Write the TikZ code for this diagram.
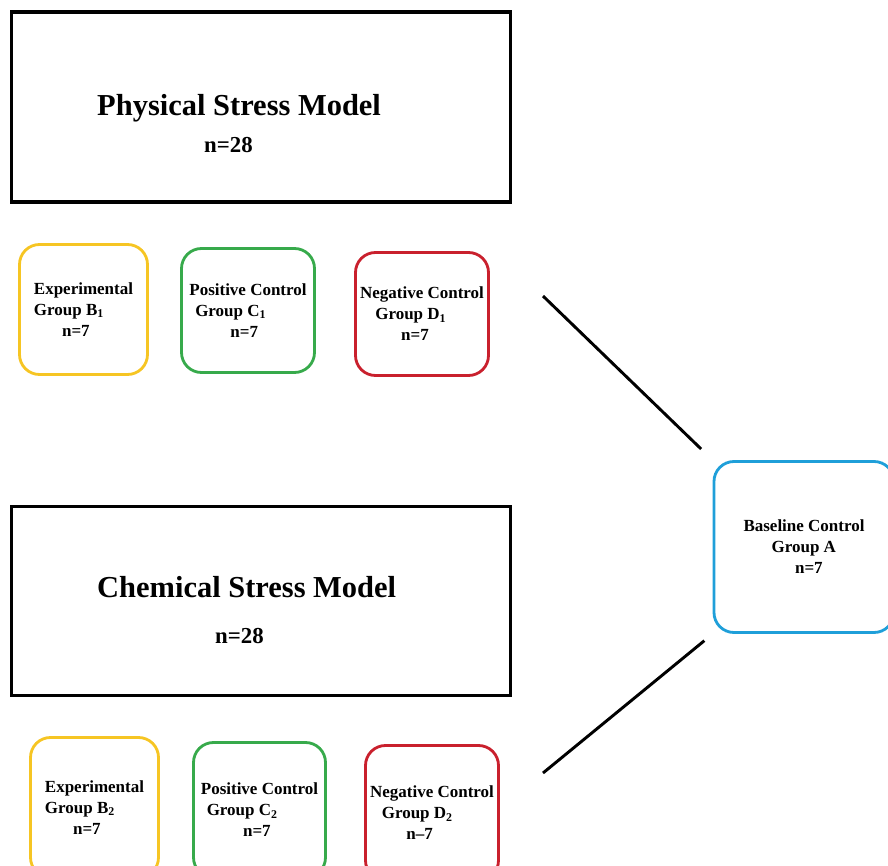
\documentclass[tikz,border=0pt]{standalone}
\usepackage{fontspec}
\setmainfont{Liberation Serif}
\usetikzlibrary{positioning,calc}

\definecolor{grpyellow}{HTML}{F6C523}
\definecolor{grpgreen}{HTML}{37AA4B}
\definecolor{grpred}{HTML}{C9202D}
\definecolor{grpblue}{HTML}{1F9FD9}

\tikzset{
  model/.style={draw, line width=2.6pt, inner sep=0pt},
  title/.style={anchor=base west, inner sep=0pt, font=\bfseries\fontsize{26pt}{30pt}\selectfont},
  count/.style={anchor=base west, inner sep=0pt, font=\bfseries\fontsize{19.5pt}{24pt}\selectfont},
  grp/.style={draw, rounded corners=0.6cm, line width=2.4pt, align=left, inner sep=0pt,
    font=\bfseries\fontsize{14.5pt}{18pt}\selectfont},
  link/.style={line width=2.5pt},
}

\begin{document}
\begin{tikzpicture}[x=0.03cm, y=-0.03cm]
  \useasboundingbox (0,0) rectangle (888,866);

  % physical stress model
  \node[model, minimum width=14.97cm, minimum height=5.7cm] (phys) at (261,107) {};
  \node[title] (physT) at (97,115) {Physical Stress Model};
  \node[count] (physN) at (204,152) {n=28};

  \node[grp, draw=grpyellow, minimum width=3.84cm, minimum height=3.9cm] (b1) at (83.5,309.5)
    {Experimental\\Group B\textsubscript{1}\\\hspace*{24pt}n=7};
  \node[grp, draw=grpgreen, minimum width=3.99cm, minimum height=3.72cm] (c1) at (248,310.5)
    {Positive Control\\\hspace*{5pt}Group C\textsubscript{1}\\\hspace*{35pt}n=7};
  \node[grp, draw=grpred, minimum width=3.99cm, minimum height=3.69cm] (d1) at (422,314)
    {Negative Control\\\hspace*{13pt}Group D\textsubscript{1}\\\hspace*{35pt}n=7};

  % chemical stress model
  \node[model, minimum width=14.97cm, minimum height=5.67cm] (chem) at (261,601) {};
  \node[title] (chemT) at (97,597) {Chemical Stress Model};
  \node[count] (chemN) at (215,643) {n=28};

  \begin{scope}[every node/.append style={font=\bfseries\fontsize{14.5pt}{16.5pt}\selectfont}]
    \node[grp, draw=grpyellow, minimum width=3.84cm, minimum height=4.2cm] (b2) at (94.5,807.5)
      {Experimental\\Group B\textsubscript{2}\\\hspace*{24pt}n=7};
    \node[grp, draw=grpgreen, minimum width=3.96cm, minimum height=4.05cm] (c2) at (259.5,810)
      {Positive Control\\\hspace*{5pt}Group C\textsubscript{2}\\\hspace*{36pt}n=7};
    \node[grp, draw=grpred, minimum width=3.99cm, minimum height=4.05cm] (d2) at (432,813)
      {Negative Control\\\hspace*{10pt}Group D\textsubscript{2}\\\hspace*{31pt}n--7};
  \end{scope}

  % baseline group
  \node[grp, draw=grpblue, minimum width=5.4cm, minimum height=5.13cm] (base) at (804,547)
    {Baseline Control\\\hspace*{24pt}Group A\\\hspace*{44pt}n=7};

  \coordinate (up) at (543,296);
  \coordinate (low) at (543,773);
  \draw[link, shorten <=0.48cm] (base.north west) -- (up);
  \draw[link, shorten <=0.32cm] (base.south west) -- (low);
\end{tikzpicture}
\end{document}
